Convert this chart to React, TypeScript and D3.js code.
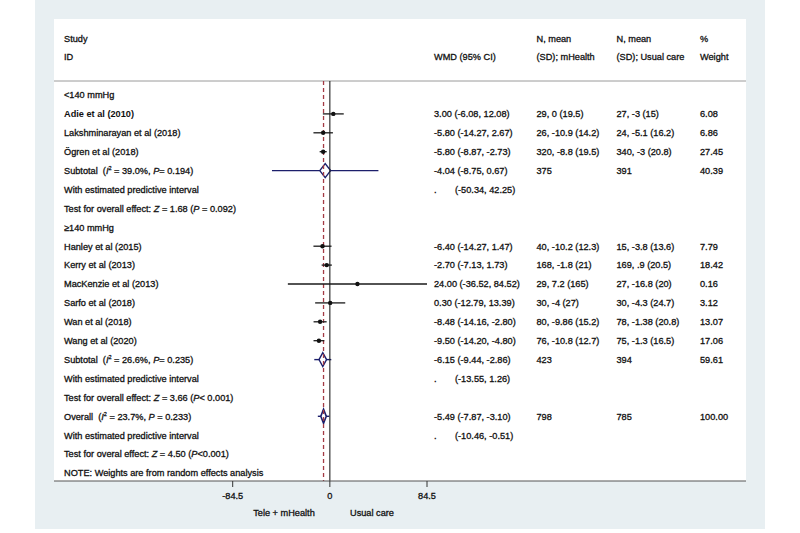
import React from "react";
import * as d3 from "d3";

const studyNames = [
  "Adie et al (2010)",
  "Lakshminarayan et al (2018)",
  "Ögren et al (2018)",
  "Hanley et al (2015)",
  "Kerry et al (2013)",
  "MacKenzie et al (2013)",
  "Sarfo et al (2018)",
  "Wan et al (2018)",
  "Wang et al (2020)",
];
const studyGroup = [0, 0, 0, 1, 1, 1, 1, 1, 1];
const studyEst = [3.0, -5.8, -5.8, -6.4, -2.7, 24.0, 0.3, -8.48, -9.5];
const studyLo = [-6.08, -14.27, -8.87, -14.27, -7.13, -36.52, -12.79, -14.16, -14.2];
const studyHi = [12.08, 2.67, -2.73, 1.47, 1.73, 84.52, 13.39, -2.8, -4.8];
const studyMHealth = [
  "29, 0 (19.5)",
  "26, -10.9 (14.2)",
  "320, -8.8 (19.5)",
  "40, -10.2 (12.3)",
  "168, -1.8 (21)",
  "29, 7.2 (165)",
  "30, -4 (27)",
  "80, -9.86 (15.2)",
  "76, -10.8 (12.7)",
];
const studyUsual = [
  "27, -3 (15)",
  "24, -5.1 (16.2)",
  "340, -3 (20.8)",
  "15, -3.8 (13.6)",
  "169, .9 (20.5)",
  "27, -16.8 (20)",
  "30, -4.3 (24.7)",
  "78, -1.38 (20.8)",
  "75, -1.3 (16.5)",
];
const studyWeight = ["6.08", "6.86", "27.45", "7.79", "18.42", "0.16", "3.12", "13.07", "17.06"];

const groupNames = ["<140 mmHg", "≥140 mmHg"];
const subEst = [-4.04, -6.15];
const subLo = [-8.75, -9.44];
const subHi = [0.67, -2.86];
const subPredLo = [-50.34, -13.55];
const subPredHi = [42.25, 1.26];
const subN1 = ["375", "423"];
const subN2 = ["391", "394"];
const subW = ["40.39", "59.61"];
const subI2 = ["39.0%", "26.6%"];
const subP = ["0.194", "0.235"];
const subZ = ["1.68", "3.66"];
const subZP = [" = 0.092)", "< 0.001)"];

const overallEst = -5.49;
const overallLo = -7.87;
const overallHi = -3.1;
const overallPredLo = -10.46;
const overallPredHi = -0.51;
const overallN1 = "798";
const overallN2 = "785";
const overallW = "100.00";
const overallI2 = "23.7%";
const overallP = "0.233";
const overallZ = "4.50";

const axisTicks = [-84.5, 0, 84.5];

const locale = d3.formatLocale({
  decimal: ".",
  thousands: ",",
  grouping: [3],
  currency: ["", ""],
  minus: "-",
});
const fmt = locale.format(".2f");
const fmtTick = locale.format("");
const fmtCI = (e: number, l: number, h: number) => `${fmt(e)} (${fmt(l)}, ${fmt(h)})`;

type Row =
  | { kind: "group"; g: number }
  | { kind: "study"; i: number }
  | { kind: "sub"; g: number }
  | { kind: "pred"; g: number }
  | { kind: "test"; g: number }
  | { kind: "overall" }
  | { kind: "opred" }
  | { kind: "otest" }
  | { kind: "note" };

export default function App() {
  const W = 800;
  const H = 533;
  const x = d3.scaleLinear().domain([-84.5, 84.5]).range([232.7, 427]);
  const rowY = (i: number) => 95 + i * 18.9;

  const rows: Row[] = [];
  groupNames.forEach((_, g) => {
    rows.push({ kind: "group", g });
    studyNames.forEach((_, i) => {
      if (studyGroup[i] === g) rows.push({ kind: "study", i });
    });
    rows.push({ kind: "sub", g });
    rows.push({ kind: "pred", g });
    rows.push({ kind: "test", g });
  });
  rows.push({ kind: "overall" });
  rows.push({ kind: "opred" });
  rows.push({ kind: "otest" });
  rows.push({ kind: "note" });

  const font = "'Liberation Sans', Arial, sans-serif";
  const fs = 9.2;
  const txt = "#111";
  const navy = "#1c1f6b";
  const red = "#a33a44";

  const colL = 64;
  const colWMD = 434;
  const colN1 = 536.5;
  const colN2 = 616.5;
  const colW = 700;
  const dy = 3.3;

  const T = (props: any) => (
    <text
      fontFamily={font}
      fontSize={fs}
      fill={txt}
      stroke={txt}
      strokeWidth={0.3}
      {...props}
    />
  );

  const diamond = (e: number, l: number, h: number, y: number, hh: number) =>
    `M${x(l)},${y} L${x(e)},${y - hh} L${x(h)},${y} L${x(e)},${y + hh} Z`;

  const plotTop = 81;
  const plotBottom = 481;

  return (
    <svg width={W} height={H} style={{ position: "absolute", left: 0, top: 0 }}>
      <rect x={0} y={0} width={W} height={H} fill="#ffffff" />
      <rect x={35} y={0} width={730} height={529} fill="#e8eff2" />
      <rect x={54} y={19} width={692} height={plotBottom - 19} fill="#ffffff" />
      <line x1={54} x2={746} y1={plotTop} y2={plotTop} stroke="#9a9a9a" strokeWidth={1} />

      {/* header */}
      <T x={colL} y={39 + dy}>Study</T>
      <T x={colL} y={57 + dy}>ID</T>
      <T x={colWMD} y={57 + dy}>WMD (95% CI)</T>
      <T x={colN1} y={39 + dy}>N, mean</T>
      <T x={colN1} y={57 + dy}>(SD);  mHealth</T>
      <T x={colN2} y={39 + dy}>N, mean</T>
      <T x={colN2} y={57 + dy}>(SD); Usual care</T>
      <T x={colW} y={39 + dy}>%</T>
      <T x={colW} y={57 + dy}>Weight</T>

      {/* predictive interval lines and diamonds */}
      {rows.map((r, k) => {
        const y = rowY(k);
        if (r.kind === "sub") {
          const g = r.g;
          return (
            <g key={"d" + k}>
              <line x1={x(subPredLo[g])} x2={x(subPredHi[g])} y1={y} y2={y} stroke={navy} strokeWidth={1.4} />
              <path d={diamond(subEst[g], subLo[g], subHi[g], y, 7)} fill="#fff" stroke={navy} strokeWidth={1.4} />
            </g>
          );
        }
        if (r.kind === "overall") {
          return (
            <g key={"d" + k}>
              <line x1={x(overallPredLo)} x2={x(overallPredHi)} y1={y} y2={y} stroke={navy} strokeWidth={1.4} />
              <path d={diamond(overallEst, overallLo, overallHi, y, 7)} fill="#fff" stroke={navy} strokeWidth={1.6} />
            </g>
          );
        }
        return null;
      })}

      {/* reference lines */}
      <line x1={x(0)} x2={x(0)} y1={plotTop} y2={plotBottom} stroke="#222" strokeWidth={1.1} />
      <line
        x1={x(overallEst)}
        x2={x(overallEst)}
        y1={plotTop}
        y2={plotBottom}
        stroke={red}
        strokeWidth={1.3}
        strokeDasharray="4,3"
      />

      {/* study CIs */}
      {rows.map((r, k) => {
        if (r.kind !== "study") return null;
        const y = rowY(k);
        const i = r.i;
        return (
          <g key={"s" + k}>
            <line x1={x(studyLo[i])} x2={x(studyHi[i])} y1={y} y2={y} stroke="#1a1a1a" strokeWidth={1.3} />
            <circle cx={x(studyEst[i])} cy={y} r={2.2} fill="#111" />
          </g>
        );
      })}

      {/* row texts */}
      {rows.map((r, k) => {
        const y = rowY(k) + dy;
        switch (r.kind) {
          case "group":
            return <T key={k} x={colL} y={y}>{groupNames[r.g]}</T>;
          case "study": {
            const i = r.i;
            return (
              <g key={k}>
                <T x={colL} y={y} fontWeight={i === 0 ? "bold" : "normal"} strokeWidth={i === 0 ? 0 : 0.3}>{studyNames[i]}</T>
                <T x={colWMD} y={y}>{fmtCI(studyEst[i], studyLo[i], studyHi[i])}</T>
                <T x={colN1} y={y}>{studyMHealth[i]}</T>
                <T x={colN2} y={y}>{studyUsual[i]}</T>
                <T x={colW} y={y}>{studyWeight[i]}</T>
              </g>
            );
          }
          case "sub": {
            const g = r.g;
            return (
              <g key={k}>
                <T x={colL} y={y}>
                  Subtotal{"\u00a0\u00a0"}(<tspan fontStyle="italic">I</tspan>
                  <tspan fontSize={5.5} dy={-3.5}>2</tspan>
                  <tspan dy={3.5}>{` = ${subI2[g]}, `}</tspan>
                  <tspan fontStyle="italic">P</tspan>
                  {`= ${subP[g]})`}
                </T>
                <T x={colWMD} y={y}>{fmtCI(subEst[g], subLo[g], subHi[g])}</T>
                <T x={colN1} y={y}>{subN1[g]}</T>
                <T x={colN2} y={y}>{subN2[g]}</T>
                <T x={colW} y={y}>{subW[g]}</T>
              </g>
            );
          }
          case "pred": {
            const g = r.g;
            return (
              <g key={k}>
                <T x={colL} y={y}>With estimated predictive interval</T>
                <T x={colWMD} y={y}>.</T>
                <T x={455} y={y}>{`(${fmt(subPredLo[g])}, ${fmt(subPredHi[g])})`}</T>
              </g>
            );
          }
          case "test": {
            const g = r.g;
            return (
              <T key={k} x={colL} y={y}>
                {`Test for overall effect: `}
                <tspan fontStyle="italic">Z</tspan>
                {` = ${subZ[g]} (`}
                <tspan fontStyle="italic">P</tspan>
                {subZP[g]}
              </T>
            );
          }
          case "overall":
            return (
              <g key={k}>
                <T x={colL} y={y}>
                  Overall{"\u00a0\u00a0"}(<tspan fontStyle="italic">I</tspan>
                  <tspan fontSize={5.5} dy={-3.5}>2</tspan>
                  <tspan dy={3.5}>{` = ${overallI2}, `}</tspan>
                  <tspan fontStyle="italic">P</tspan>
                  {` = ${overallP})`}
                </T>
                <T x={colWMD} y={y}>{fmtCI(overallEst, overallLo, overallHi)}</T>
                <T x={colN1} y={y}>{overallN1}</T>
                <T x={colN2} y={y}>{overallN2}</T>
                <T x={colW} y={y}>{overallW}</T>
              </g>
            );
          case "opred":
            return (
              <g key={k}>
                <T x={colL} y={y}>With estimated predictive interval</T>
                <T x={colWMD} y={y}>.</T>
                <T x={455} y={y}>{`(${fmt(overallPredLo)}, ${fmt(overallPredHi)})`}</T>
              </g>
            );
          case "otest":
            return (
              <T key={k} x={colL} y={y}>
                {`Test for overal effect: `}
                <tspan fontStyle="italic">Z</tspan>
                {` = ${overallZ} (`}
                <tspan fontStyle="italic">P</tspan>
                {`<0.001)`}
              </T>
            );
          case "note":
            return <T key={k} x={colL} y={y}>NOTE: Weights are from random effects analysis</T>;
        }
        return null;
      })}

      {/* axis */}
      <line x1={54} x2={746} y1={plotBottom} y2={plotBottom} stroke="#555" strokeWidth={1} />
      {axisTicks.map((t) => (
        <g key={t}>
          <line x1={x(t)} x2={x(t)} y1={plotBottom} y2={plotBottom + 6} stroke="#333" strokeWidth={1} />
          <T x={x(t)} y={plotBottom + 18} textAnchor="middle">{fmtTick(t)}</T>
        </g>
      ))}
      <T x={284} y={516} textAnchor="middle">Tele + mHealth</T>
      <T x={372} y={516} textAnchor="middle">Usual care</T>
    </svg>
  );
}
